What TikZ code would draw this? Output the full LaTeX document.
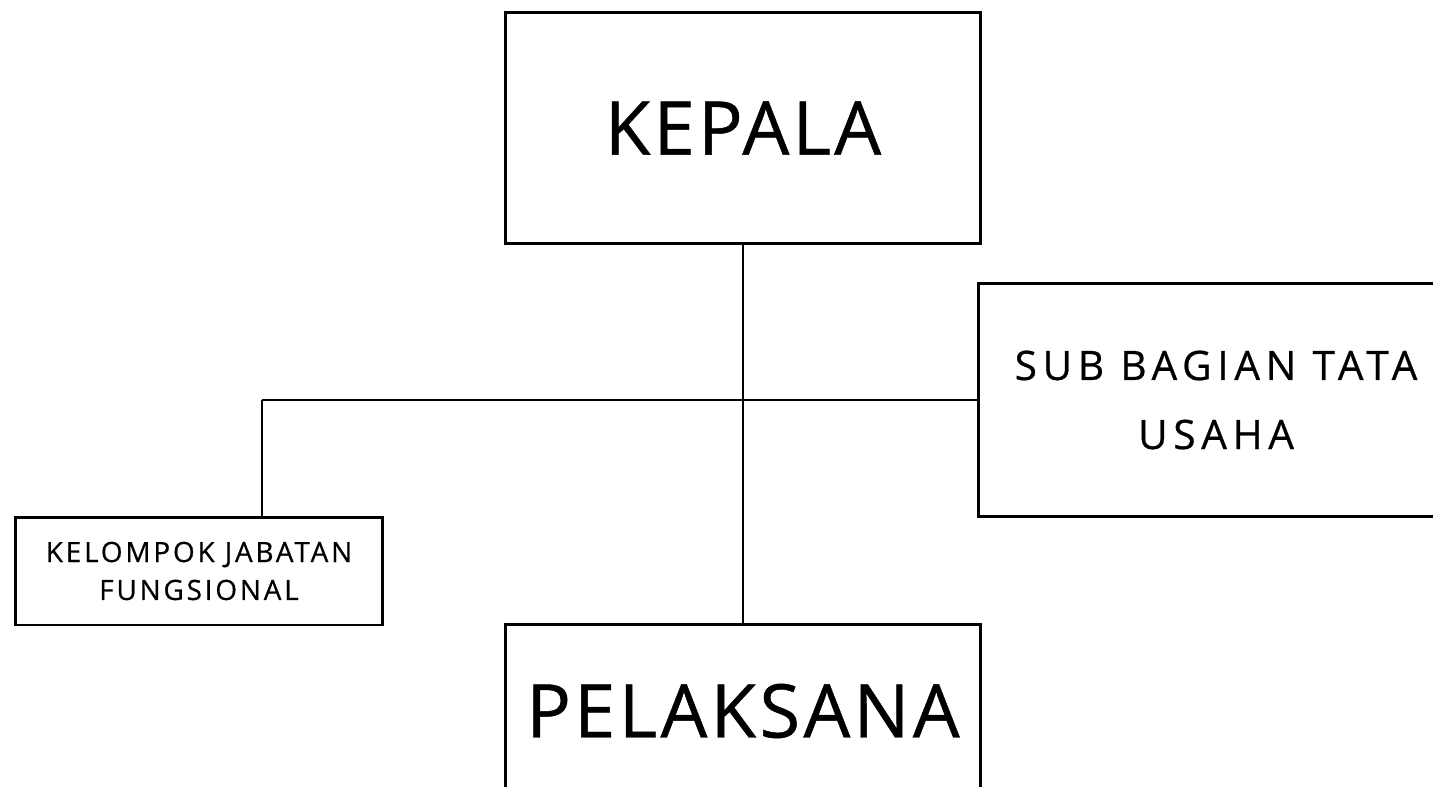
\documentclass[tikz,border=0pt]{standalone}
\usepackage{fontspec}
\setmainfont{Open Sans}[FakeBold=0.6]
\begin{document}
\begin{tikzpicture}[
	x=0.02cm, y=-0.02cm,
	box/.style = {draw, line width=1.7pt, align=center, inner sep=0pt},
	bigbox/.style = {box, minimum width=9.52cm, font=\fontsize{42.2}{50}\selectfont\addfontfeatures{LetterSpace=4.4}},
	subbox/.style = {box, minimum width=9.52cm, minimum height=4.68cm, font=\fontsize{23.1}{39.3}\selectfont\addfontfeatures{LetterSpace=14}},
	smallbox/.style = {box, minimum width=7.36cm, minimum height=2.16cm, font=\fontsize{15.9}{21.6}\selectfont\addfontfeatures{LetterSpace=10}},
	link/.style = {draw, line width=0.9pt},
	]
	\useasboundingbox (0,0) rectangle (1433,787);
	\clip (0,0) rectangle (1433,787);
	\node[bigbox, minimum height=4.64cm] (kepala) at (743,128) {KEPALA};
	\node[subbox] (sub) at (1216,400) {SUB BAGIAN TATA\\USAHA};
	\node[smallbox] (kelompok) at (199,571) {KELOMPOK JABATAN\\FUNGSIONAL};
	\node[bigbox, minimum height=3.48cm] (pelaksana) at (743,711) {PELAKSANA};
	\coordinate (jf) at (262,400);
	\draw[link] (kepala) -- (pelaksana);
	\draw[link] (jf) -- (sub.west);
	\draw[link] (jf) -- (jf |- kelompok.north);
\end{tikzpicture}
\end{document}
